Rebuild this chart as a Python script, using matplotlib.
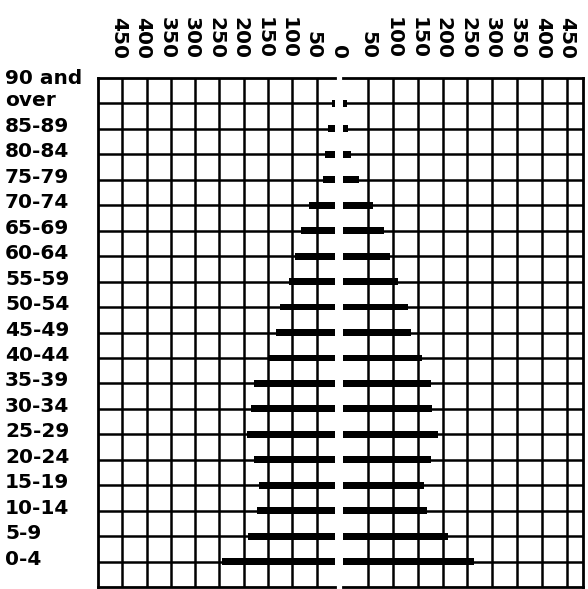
import matplotlib.pyplot as plt
import matplotlib.transforms as mtransforms
import numpy as np

# age groups, top to bottom
ages = ['90 and\nover', '85-89', '80-84', '75-79', '70-74', '65-69', '60-64',
        '55-59', '50-54', '45-49', '40-44', '35-39', '30-34', '25-29',
        '20-24', '15-19', '10-14', '5-9', '0-4']
left_side = [19, 27, 33, 37, 66, 82, 95, 107, 126, 133, 148, 178, 184, 194,
             178, 168, 172, 192, 245]
right_side = [9, 10, 16, 32, 60, 82, 94, 110, 130, 136, 158, 176, 178, 190,
              176, 162, 168, 210, 264]
scale_ticks = [50, 100, 150, 200, 250, 300, 350, 400, 450]

plt.rcParams['font.family'] = 'DejaVu Sans'
plt.rcParams['font.weight'] = 'bold'
plt.rcParams['font.size'] = 14.5

fig = plt.figure(figsize=(5.88, 5.89), dpi=100)
axl = fig.add_axes([98 / 588, 2 / 589, 237 / 588, 509 / 589])
axr = fig.add_axes([343 / 588, 2 / 589, 240 / 588, 509 / 589])

rows = np.arange(1, len(ages) + 1)


def shift(label, dx, dy):
    label.set_transform(label.get_transform() +
                        mtransforms.ScaledTranslation(dx / 100, dy / 100, fig.dpi_scale_trans))


for ax in (axl, axr):
    ax.set_ylim(len(ages) + 1, 0)
    ax.set_yticks(rows)
    ax.set_xticks(scale_ticks)
    ax.set_xticklabels([str(t) for t in scale_ticks], rotation=270)
    ax.xaxis.tick_top()
    ax.tick_params(axis='both', which='both', length=0)
    ax.tick_params(axis='x', which='both', pad=14)
    ax.grid(True, which='major', color='black', linewidth=1.8)
    ax.set_axisbelow(True)
    for s in ax.spines.values():
        s.set_linewidth(2.0)

axl.set_xlim(500, 12)
axl.spines['right'].set_visible(False)
axl.set_yticklabels(ages, ha='left', va='bottom')
axl.tick_params(axis='y', pad=67)
axl.barh(rows, left_side, height=0.27, color='black', zorder=3)

axr.set_xlim(0, 482)
axr.spines['left'].set_visible(False)
axr.set_yticklabels([])
axr.set_xticks([0], minor=True)
axr.set_xticklabels(['0'], minor=True, rotation=270)
axr.barh(rows, right_side, height=0.27, color='black', zorder=3)

for lab in axl.get_xticklabels():
    shift(lab, -4, 0)
for lab in axl.get_yticklabels():
    shift(lab, 0, -7)
for lab in axr.get_xticklabels(minor=True):
    shift(lab, -5, 0)

fig.savefig('out.png', dpi=100)
